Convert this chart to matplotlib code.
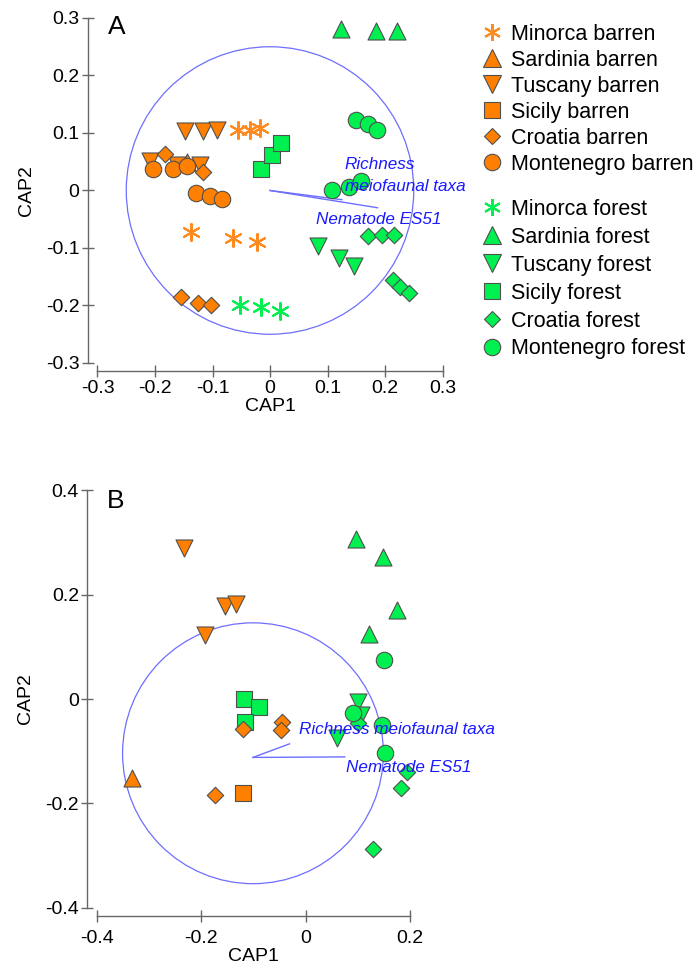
import numpy as np
import matplotlib
matplotlib.use("Agg")
import matplotlib.pyplot as plt
from matplotlib.lines import Line2D
from matplotlib.patches import Circle

plt.rcParams['font.family'] = ['Liberation Sans', 'DejaVu Sans']

ORANGE = '#ff7f00'
ORANGE_AST = '#ff8a1f'
GREEN = '#00f050'
EDGE = '#505050'
BLUE = '#1a1aff'
CIRCLE_BLUE = '#6e6eff'

sites = ['Minorca', 'Sardinia', 'Tuscany', 'Sicily', 'Croatia', 'Montenegro']
markers = [(6, 2, 0), '^', 'v', 's', 'D', 'o']
msizes = [150, 150, 150, 120, 70, 140]

# ---- Panel A data (CAP1, CAP2) ----
a_barren = {
    'Minorca': ([-0.056, -0.035, -0.017, -0.137, -0.064, -0.023],
                [0.106, 0.106, 0.108, -0.073, -0.082, -0.089]),
    'Sardinia': ([-0.144], [0.049]),
    'Tuscany': ([-0.148, -0.117, -0.092, -0.209, -0.162, -0.122],
                [0.103, 0.104, 0.106, 0.052, 0.045, 0.045]),
    'Sicily': ([], []),
    'Croatia': ([-0.183, -0.117, -0.155, -0.125, -0.103],
                [0.063, 0.033, -0.186, -0.195, -0.200]),
    'Montenegro': ([-0.203, -0.169, -0.144, -0.129, -0.104, -0.083],
                   [0.037, 0.038, 0.042, -0.004, -0.010, -0.014]),
}
a_forest = {
    'Minorca': ([-0.052, -0.016, 0.017], [-0.200, -0.203, -0.210]),
    'Sardinia': ([0.123, 0.184, 0.221], [0.280, 0.277, 0.277]),
    'Tuscany': ([0.084, 0.120, 0.146], [-0.097, -0.117, -0.132]),
    'Sicily': ([-0.016, 0.003, 0.019], [0.038, 0.061, 0.083]),
    'Croatia': ([0.171, 0.195, 0.215, 0.214, 0.226, 0.242],
                [-0.080, -0.078, -0.077, -0.155, -0.168, -0.178]),
    'Montenegro': ([0.150, 0.171, 0.186, 0.107, 0.138, 0.159],
                   [0.122, 0.115, 0.106, 0.000, 0.006, 0.016]),
}

# ---- Panel B data ----
b_barren = {
    'Minorca': ([], []),
    'Sardinia': ([-0.333], [-0.152]),
    'Tuscany': ([-0.234, -0.155, -0.134, -0.193], [0.289, 0.178, 0.182, 0.123]),
    'Sicily': ([-0.121], [-0.180]),
    'Croatia': ([-0.121, -0.046, -0.048, -0.174], [-0.057, -0.044, -0.059, -0.184]),
    'Montenegro': ([], []),
}
b_forest = {
    'Minorca': ([], []),
    'Sardinia': ([0.096, 0.149, 0.175, 0.121], [0.306, 0.273, 0.171, 0.125]),
    'Tuscany': ([0.100, 0.107, 0.061], [-0.005, -0.030, -0.075]),
    'Sicily': ([-0.119, -0.090, -0.117], [0.000, -0.015, -0.044]),
    'Croatia': ([0.100, 0.195, 0.183, 0.129], [-0.046, -0.140, -0.171, -0.287]),
    'Montenegro': ([0.151, 0.090, 0.146, 0.153], [0.075, -0.027, -0.050, -0.103]),
}

# vectors: origin, richness end, nematode end
a_origin = (0.0, 0.0)
a_vec_rich = (0.125, -0.016)
a_vec_nem = (0.187, -0.030)
b_origin = (-0.101, -0.112)
b_vec_rich = (-0.031, -0.086)
b_vec_nem = (0.075, -0.111)


def draw_group(ax, data, color, ast_color):
    for site, m, s in zip(sites, markers, msizes):
        x, y = data[site]
        if len(x) == 0:
            continue
        if site == 'Minorca':
            ax.scatter(x, y, marker=m, s=s, color=ast_color, linewidths=1.5,
                       zorder=3, clip_on=False)
        else:
            ax.scatter(x, y, marker=m, s=s, facecolor=color, edgecolor=EDGE,
                       linewidths=0.8, zorder=3, clip_on=False)


def style_axes(ax, xlim, ylim, xticks, yticks, xlabels, ylabels):
    ax.set_xlim(*xlim)
    ax.set_ylim(*ylim)
    ax.set_aspect('equal', adjustable='box')
    for side in ['top', 'right']:
        ax.spines[side].set_visible(False)
    ax.spines['left'].set_position(('outward', 7))
    ax.spines['bottom'].set_position(('outward', 6))
    ax.spines['left'].set_bounds(*ylim)
    ax.spines['bottom'].set_bounds(*xlim)
    for side in ['left', 'bottom']:
        ax.spines[side].set_color('#666666')
        ax.spines[side].set_linewidth(1.0)
    ax.set_xticks(xticks)
    ax.set_yticks(yticks)
    ax.set_xticklabels(xlabels)
    ax.set_yticklabels(ylabels)
    ax.tick_params(direction='inout', length=8, width=1.0, color='#666666',
                   labelsize=14, pad=2)
    ax.set_xlabel('CAP1', fontsize=14, labelpad=1)
    ax.set_ylabel('CAP2', fontsize=14, labelpad=8)


fig = plt.figure(figsize=(6.98, 9.75), dpi=100)

# ---------- Panel A ----------
axA = fig.add_axes([97 / 698, 1 - 363 / 975, 346 / 698, 345 / 975])
axA.add_patch(Circle(a_origin, 0.25, fill=False, color=CIRCLE_BLUE, lw=0.9, zorder=1))
for end in [a_vec_rich, a_vec_nem]:
    axA.plot([a_origin[0], end[0]], [a_origin[1], end[1]], color=CIRCLE_BLUE, lw=1.0, zorder=1)
draw_group(axA, a_forest, GREEN, GREEN)
draw_group(axA, a_barren, ORANGE, ORANGE_AST)
axA.text(0.13, 0.045, 'Richness', color=BLUE, style='italic', fontsize=12.3,
         va='center', zorder=4)
axA.text(0.13, 0.007, 'meiofaunal taxa', color=BLUE, style='italic', fontsize=12.3,
         va='center', zorder=4)
axA.text(0.08, -0.05, 'Nematode ES51', color=BLUE, style='italic', fontsize=12.3,
         va='center', zorder=4)
style_axes(axA, (-0.3, 0.3), (-0.3, 0.3),
           [-0.3, -0.2, -0.1, 0, 0.1, 0.2, 0.3],
           [-0.3, -0.2, -0.1, 0, 0.1, 0.2, 0.3],
           ['-0.3', '-0.2', '-0.1', '0', '0.1', '0.2', '0.3'],
           ['-0.3', '-0.2', '-0.1', '0', '0.1', '0.2', '0.3'])
axA.text(0.03, 0.975, 'A', transform=axA.transAxes, fontsize=19, va='center', ha='left')

# ---------- Panel B ----------
axB = fig.add_axes([97 / 698, 1 - 908 / 975, 313 / 698, 418 / 975])
axB.add_patch(Circle((-0.101, -0.104), 0.25, fill=False, color=CIRCLE_BLUE, lw=0.9, zorder=1))
for end in [b_vec_rich, b_vec_nem]:
    axB.plot([b_origin[0], end[0]], [b_origin[1], end[1]], color=CIRCLE_BLUE, lw=1.0, zorder=1)
draw_group(axB, b_forest, GREEN, GREEN)
draw_group(axB, b_barren, ORANGE, ORANGE_AST)
axB.text(-0.012, -0.059, 'Richness meiofaunal taxa', color=BLUE, style='italic',
         fontsize=12.3, va='center', zorder=4)
axB.text(0.077, -0.132, 'Nematode ES51', color=BLUE, style='italic',
         fontsize=12.3, va='center', zorder=4)
style_axes(axB, (-0.4, 0.2), (-0.4, 0.4),
           [-0.4, -0.2, 0, 0.2], [-0.4, -0.2, 0, 0.2, 0.4],
           ['-0.4', '-0.2', '0', '0.2'], ['-0.4', '-0.2', '0', '0.2', '0.4'])
axB.tick_params(axis='x', pad=6)
axB.text(0.03, 0.975, 'B', transform=axB.transAxes, fontsize=19, va='center', ha='left')

# ---------- Legends (barren block, then forest block) ----------
for habitat, color, ast_color, top_px, spacing in [('barren', ORANGE, ORANGE_AST, 24, 0.23),
                                                   ('forest', GREEN, GREEN, 199, 0.32)]:
    handles, labels = [], []
    for site, m, s in zip(sites, markers, msizes):
        ms = np.sqrt(s)
        if site == 'Minorca':
            h = Line2D([], [], linestyle='none', marker=m, markersize=ms,
                       color=ast_color, markeredgewidth=1.5)
        else:
            h = Line2D([], [], linestyle='none', marker=m, markersize=ms,
                       markerfacecolor=color, markeredgecolor=EDGE, markeredgewidth=0.8)
        handles.append(h)
        labels.append(f'{site} {habitat}')
    leg = fig.legend(handles, labels, loc='upper left',
                     bbox_to_anchor=(481 / 698, 1 - top_px / 975),
                     frameon=False, fontsize=15.5, handlelength=1.0, handletextpad=0.4,
                     labelspacing=spacing, borderpad=0, borderaxespad=0)

fig.savefig('out.png', dpi=100)
